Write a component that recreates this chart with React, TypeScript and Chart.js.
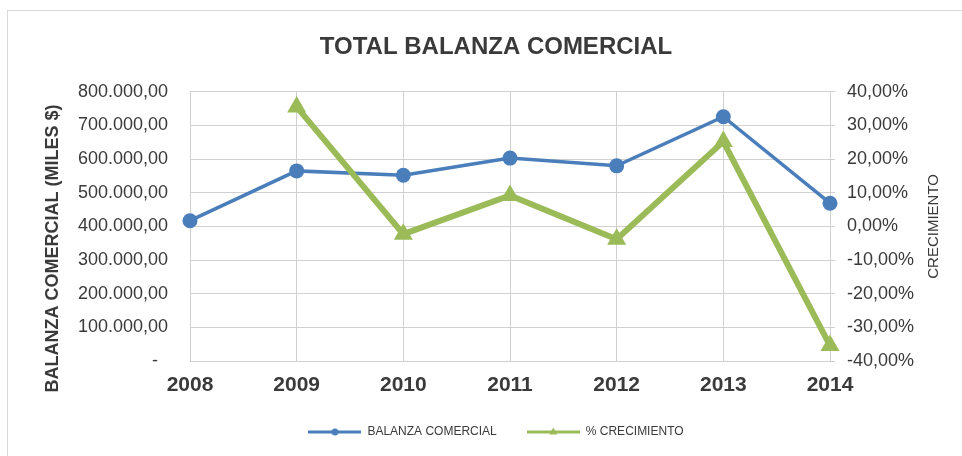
import React, { useEffect, useRef } from "react";
import { Chart, registerables } from "chart.js";

Chart.register(...registerables);

const TITLE = "TOTAL BALANZA COMERCIAL";
const LEFT_AXIS_TITLE = "BALANZA COMERCIAL (MILES $)";
const RIGHT_AXIS_TITLE = "CRECIMIENTO";
const years = ["2008", "2009", "2010", "2011", "2012", "2013", "2014"];
const balanzaComercial = [417000, 565000, 552000, 603000, 580000, 726000, 469000];
const crecimiento = [null, 35.5, -2.3, 9.2, -3.8, 25.2, -35.4];
const seriesNames = ["BALANZA COMERCIAL", "% CRECIMIENTO"];

const BLUE = "#4a7ebb";
const GREEN = "#9bbb59";
const TEXT = "#3a3a3a";
const GRID = "#d0d0d0";
const FONT = '"Liberation Sans", Arial, sans-serif';

function fmtMiles(v: number): string {
  if (v === 0) return "-  ";
  const s = Math.round(v).toString().replace(/\B(?=(\d{3})+(?!\d))/g, ".");
  return s + ",00";
}

function fmtPct(v: number): string {
  const r = Math.abs(v) < 1e-9 ? 0 : v;
  return r.toFixed(2).replace(".", ",") + "%";
}

function makeIcon(color: string, marker: "circle" | "triangle"): HTMLCanvasElement {
  const c = document.createElement("canvas");
  c.width = 53;
  c.height = 12;
  const ctx = c.getContext("2d")!;
  ctx.strokeStyle = color;
  ctx.fillStyle = color;
  ctx.lineWidth = 3;
  ctx.beginPath();
  ctx.moveTo(0, 6);
  ctx.lineTo(53, 6);
  ctx.stroke();
  ctx.beginPath();
  if (marker === "circle") {
    ctx.arc(26.5, 6, 3.5, 0, Math.PI * 2);
  } else {
    ctx.moveTo(26.5, 1.5);
    ctx.lineTo(30.5, 8.5);
    ctx.lineTo(22.5, 8.5);
    ctx.closePath();
  }
  ctx.fill();
  return c;
}

const axisTitlePlugin = {
  id: "axisTitles",
  afterDraw(chart: any) {
    const ctx = chart.ctx;
    const area = chart.chartArea;
    const midY = (area.top + area.bottom) / 2;
    ctx.save();
    ctx.fillStyle = TEXT;
    ctx.textAlign = "center";
    ctx.textBaseline = "middle";
    ctx.font = `bold 18px ${FONT}`;
    ctx.translate(53, midY + 22);
    ctx.rotate(-Math.PI / 2);
    ctx.fillText(LEFT_AXIS_TITLE, 0, 0);
    ctx.restore();
    ctx.save();
    ctx.fillStyle = TEXT;
    ctx.textAlign = "center";
    ctx.textBaseline = "middle";
    ctx.font = `15px ${FONT}`;
    ctx.translate(934, midY);
    ctx.rotate(-Math.PI / 2);
    ctx.fillText(RIGHT_AXIS_TITLE, 0, 0);
    ctx.restore();
  },
};

export default function App() {
  const ref = useRef<HTMLCanvasElement>(null);

  useEffect(() => {
    if (!ref.current) return;
    const icons = [makeIcon(BLUE, "circle"), makeIcon(GREEN, "triangle")];
    const chart = new Chart(ref.current, {
      type: "line",
      data: {
        labels: years,
        datasets: [
          {
            label: seriesNames[0],
            data: balanzaComercial,
            borderColor: BLUE,
            backgroundColor: BLUE,
            borderWidth: 3.5,
            pointRadius: 7.5,
            pointBorderWidth: 0,
            pointBackgroundColor: BLUE,
            yAxisID: "y",
            clip: false,
            order: 0,
          },
          {
            label: seriesNames[1],
            data: crecimiento,
            borderColor: GREEN,
            backgroundColor: GREEN,
            borderWidth: 6,
            pointStyle: "triangle",
            pointRadius: 11,
            pointBorderWidth: 0,
            pointBackgroundColor: GREEN,
            yAxisID: "y1",
            clip: false,
            order: -1,
          },
        ],
      },
      options: {
        responsive: false,
        animation: false,
        devicePixelRatio: 1,
        layout: { padding: { left: 30, right: 0, top: 0, bottom: 8 } },
        plugins: {
          title: {
            display: true,
            text: TITLE,
            color: TEXT,
            font: { family: FONT, size: 24, weight: "bold" },
            padding: { top: 33, bottom: 30 },
          },
          legend: {
            display: true,
            position: "bottom",
            labels: {
              usePointStyle: true,
              pointStyleWidth: 53,
              padding: 30,
              color: TEXT,
              font: { family: FONT, size: 12 },
              generateLabels: (chart: any) =>
                chart.data.datasets.map((ds: any, i: number) => ({
                  text: ds.label,
                  fillStyle: ds.borderColor,
                  strokeStyle: ds.borderColor,
                  lineWidth: 0,
                  pointStyle: icons[i],
                  hidden: false,
                  datasetIndex: i,
                  fontColor: TEXT,
                })),
            },
          },
          tooltip: { enabled: false },
        },
        scales: {
          x: {
            type: "category",
            offset: false,
            grid: { color: GRID, lineWidth: 1, drawTicks: false },
            border: { color: GRID, width: 1 },
            ticks: {
              color: TEXT,
              font: { family: FONT, size: 21, weight: "bold" },
              padding: 12,
              maxRotation: 0,
            },
            afterFit: (s: any) => {
              s.height = 35;
            },
          },
          y: {
            type: "linear",
            position: "left",
            min: 0,
            max: 800000,
            grid: { color: GRID, lineWidth: 1, drawTicks: false },
            border: { color: GRID, width: 1 },
            ticks: {
              stepSize: 100000,
              color: TEXT,
              font: { family: FONT, size: 18 },
              padding: 22,
              callback: (v: any) => fmtMiles(Number(v)),
            },
            afterFit: (s: any) => {
              s.width = 160;
            },
          },
          y1: {
            type: "linear",
            position: "right",
            min: -40,
            max: 40,
            grid: { color: GRID, lineWidth: 1, drawOnChartArea: false, drawTicks: true, tickLength: 5 },
            border: { color: GRID, width: 1 },
            ticks: {
              stepSize: 10,
              color: TEXT,
              font: { family: FONT, size: 18 },
              padding: 12,
              callback: (v: any) => fmtPct(Number(v)),
            },
            afterFit: (s: any) => {
              s.width = 132;
            },
          },
        },
      },
      plugins: [axisTitlePlugin],
    } as any);
    return () => chart.destroy();
  }, []);

  return (
    <div
      style={{
        position: "fixed",
        left: 0,
        top: 0,
        width: 962,
        height: 456,
        overflow: "hidden",
        background: "#ffffff",
      }}
    >
      <canvas ref={ref} width={962} height={456} style={{ display: "block", width: 962, height: 456 }} />
      <div
        style={{
          position: "absolute",
          left: 7,
          top: 10,
          width: 2000,
          height: 2000,
          borderLeft: "1px solid #d9d9d9",
          borderTop: "1px solid #d9d9d9",
          pointerEvents: "none",
        }}
      />
    </div>
  );
}
